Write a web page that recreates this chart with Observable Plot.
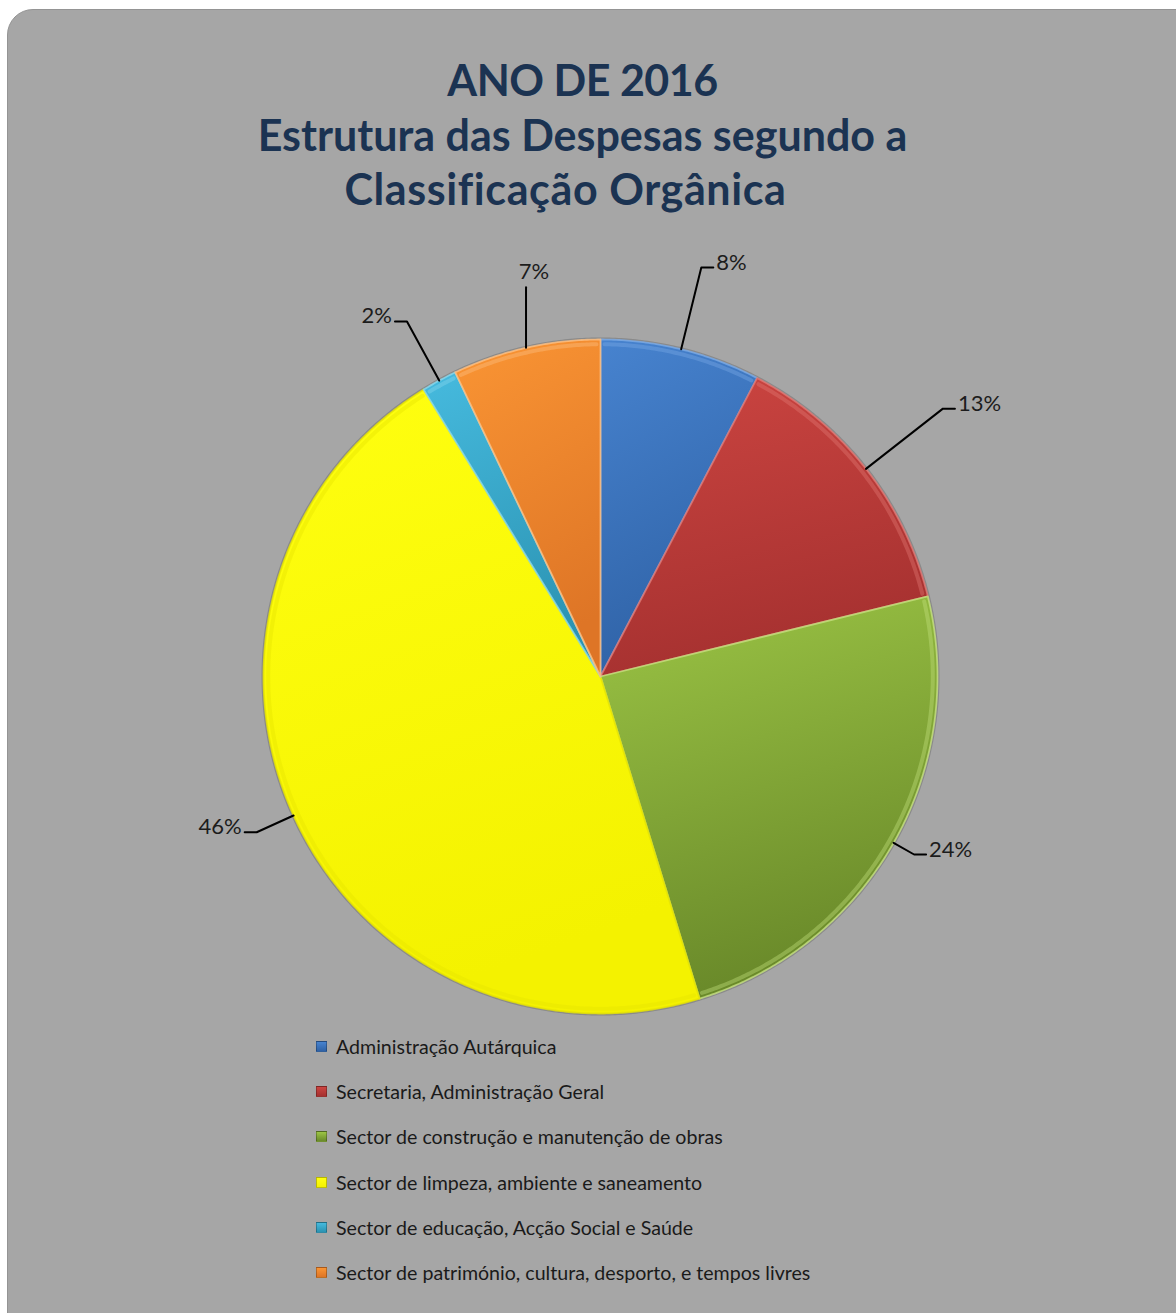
<!DOCTYPE html>
<html><head><meta charset="utf-8">
<script src="https://cdn.jsdelivr.net/npm/d3@7"></script>
<script src="https://cdn.jsdelivr.net/npm/@observablehq/plot@0.6"></script>
<style>
html,body{margin:0;padding:0;background:#fff;}
#wrap{position:relative;width:1176px;height:1313px;overflow:hidden;font-family:Lato,"Open Sans",sans-serif;}
#frame{position:absolute;left:7px;top:9px;width:1200px;height:1340px;background:#a6a6a6;border:1px solid #949494;border-radius:26px;box-sizing:border-box;}
#title{position:absolute;left:0;top:53px;width:1165px;text-align:center;font-weight:700;font-size:43px;line-height:54.5px;color:#1b3352;}
#title .l1{letter-spacing:-0.5px;}
#title .l3{display:inline-block;margin-right:34px;letter-spacing:0.6px;}
#chart{position:absolute;left:0;top:0;}
#legend{position:absolute;left:316px;top:1024px;}
.item{height:45.2px;display:flex;align-items:center;font-size:19.6px;color:#1a1a1a;white-space:nowrap;}
.sw{width:11px;height:11px;margin-right:9px;box-sizing:border-box;border:1px solid rgba(0,0,0,0.25);}
</style></head>
<body><div id="wrap"><div id="frame"></div>
<div id="title"><span class="l1">ANO DE 2016</span><br>Estrutura das Despesas segundo a<br><span class="l3">Classificação Orgânica</span></div>
<div id="chart"></div><div id="legend"></div></div>
<script>
// ---- data ----
const categories = [
  "Administração Autárquica",
  "Secretaria, Administração Geral",
  "Sector de construção e manutenção de obras",
  "Sector de limpeza, ambiente e saneamento",
  "Sector de educação, Acção Social e Saúde",
  "Sector de património, cultura, desporto, e tempos livres"
];
const values = [7.7, 13.5, 24.1, 46.0, 1.7, 7.1];
const percentLabels = ["8%", "13%", "24%", "46%", "2%", "7%"];

// ---- styles / layout ----
const topColors    = ["#4783cf", "#cc4541", "#9cc545", "#ffff10", "#46bade", "#fa9534"];
const bottomColors = ["#2f62a6", "#a63130", "#6a8a2a", "#f4f200", "#2b93b2", "#de7526"];
const rimColors    = ["#7aaae6", "#e07874", "#c4e07e", "#e6e400", "#8ad8ee", "#fcc084"];
const labelReach   = [1.25, 1.29, 1.07, 1.12, 1.2, 1.18];

const W = 1176, H = 1040, cx = 600, cy = 676, R = 337;

const arcs = d3.pie().sort(null).value(d => d)(values);

const slicePts = arcs.map((a, i) => {
  const pts = [{i, x: 0, y: 0}];
  const n = Math.max(6, Math.ceil((a.endAngle - a.startAngle) / 0.008));
  for (let k = 0; k <= n; k++) {
    const t = a.startAngle + (a.endAngle - a.startAngle) * k / n;
    pts.push({i, x: Math.sin(t), y: Math.cos(t)});
  }
  pts.push({i, x: 0, y: 0});
  return pts;
});
const rimPts = arcs.map((a, i) => {
  const pts = [];
  const n = Math.max(6, Math.ceil((a.endAngle - a.startAngle) / 0.008));
  const pad = 0.012;
  for (let k = 0; k <= n; k++) {
    const t = a.startAngle + pad + (a.endAngle - a.startAngle - 2 * pad) * k / n;
    pts.push({i, x: 0.986 * Math.sin(t), y: 0.986 * Math.cos(t)});
  }
  return pts;
});
const outline = [];
{
  const n = 720;
  for (let k = 0; k <= n; k++) {
    const t = 2 * Math.PI * k / n;
    outline.push({x: 1.003 * Math.sin(t), y: 1.003 * Math.cos(t)});
  }
}

const px = 1 / R;
const leaders = [];
const labels = [];
arcs.forEach((a, i) => {
  const m = (a.startAngle + a.endAngle) / 2;
  const s = Math.sin(m), c = Math.cos(m);
  const p0 = {x: s, y: c};
  if (Math.abs(s) < 0.23) {
    const p1 = {x: s, y: c + 0.18};
    leaders.push({i, ...p0}, {i, ...p1});
    labels.push({anchor: "middle", x: p1.x + 8 * px, y: p1.y + 15 * px, text: percentLabels[i]});
  } else {
    const k = labelReach[i];
    const side = s > 0 ? 1 : -1;
    const p1 = {x: s * k, y: c * k};
    const p2 = {x: p1.x + side * 12 * px, y: p1.y};
    leaders.push({i, ...p0}, {i, ...p1}, {i, ...p2});
    labels.push({anchor: side > 0 ? "start" : "end", x: p2.x + side * 3 * px, y: p2.y + 5 * px, text: percentLabels[i]});
  }
});

const marks = [];
marks.push(Plot.line(outline, {x: "x", y: "y", stroke: "#6e6e6e", strokeWidth: 2, strokeOpacity: 0.5, curve: "linear"}));
slicePts.forEach((pts, i) => {
  marks.push(Plot.line(pts, {x: "x", y: "y", fill: `url(#g${i})`, stroke: rimColors[i], strokeWidth: 1.8, strokeOpacity: 0.8, strokeLinejoin: "round", curve: "linear"}));
});
rimPts.forEach((pts, i) => {
  marks.push(Plot.line(pts, {x: "x", y: "y", stroke: rimColors[i], strokeWidth: 4, strokeOpacity: 0.4, curve: "linear"}));
});
marks.push(Plot.line(leaders, {x: "x", y: "y", z: "i", stroke: "#000", strokeWidth: 2, curve: "linear"}));
for (const anchor of ["start", "end", "middle"]) {
  marks.push(Plot.text(labels.filter(d => d.anchor === anchor), {x: "x", y: "y", text: "text", textAnchor: anchor, fontSize: 22, fill: "#1c1c1c", fontFamily: "Lato, sans-serif"}));
}

const svg = Plot.plot({
  width: W, height: H, margin: 0,
  x: {domain: [-cx / R, (W - cx) / R], range: [0, W], axis: null},
  y: {domain: [(cy - H) / R, cy / R], range: [H, 0], axis: null},
  style: {background: "transparent", overflow: "visible"},
  marks
});
const defs = d3.select(svg).insert("defs", ":first-child");
values.forEach((v, i) => {
  const g = defs.append("linearGradient").attr("id", `g${i}`).attr("x1", 0).attr("y1", 0).attr("x2", 0.25).attr("y2", 1);
  g.append("stop").attr("offset", "0%").attr("stop-color", topColors[i]);
  g.append("stop").attr("offset", "100%").attr("stop-color", bottomColors[i]);
});
document.getElementById("chart").appendChild(svg);

const legend = d3.select("#legend");
categories.forEach((c, i) => {
  const it = legend.append("div").attr("class", "item");
  it.append("div").attr("class", "sw").style("background", `linear-gradient(${topColors[i]}, ${bottomColors[i]})`);
  it.append("span").text(c);
});
</script></body></html>
